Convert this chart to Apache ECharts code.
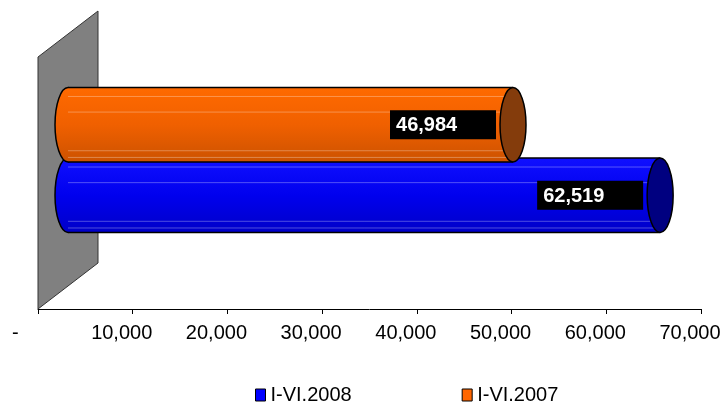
<!DOCTYPE html>
<html>
<head>
<meta charset="utf-8">
<script src="https://cdn.jsdelivr.net/npm/echarts@6/dist/echarts.min.js"></script>
<style>
  html, body { margin: 0; padding: 0; background: #fff; }
  #chart { width: 720px; height: 403px; }
</style>
</head>
<body>
<div id="chart"></div>
<script>
// data
const categories = [''];
const seriesNames = ['I-VI.2008', 'I-VI.2007'];
const values2008 = [62519];
const values2007 = [46984];
const tickValues = [0, 10000, 20000, 30000, 40000, 50000, 60000, 70000];
const tickLabels = ['-', '10,000', '20,000', '30,000', '40,000', '50,000', '60,000', '70,000'];

const FONT = 'Liberation Sans, Arial, sans-serif';
// fake 3d depth: wall goes back by (60,-46), bars sit half way
const WALL_DX = 60, WALL_DY = -46;
const DX = WALL_DX / 2, DY = WALL_DY / 2;

function fmt(v) {
  return v.toLocaleString('en-US');
}

function cylinder(colors, capColor, slot) {
  return function (params, api) {
    const v = api.value(0);
    const c = api.value(1);
    const band = api.size([0, 1])[1];
    const p0 = api.coord([0, c]);
    const p1 = api.coord([v, c]);
    const h = band * 0.295;
    const r = h / 2;
    const rx = 13;
    const cy = p0[1] + DY + slot * band * 0.14;
    const x0 = p0[0] + DX;
    const x1 = p1[0] + DX;
    const top = cy - r, bottom = cy + r;
    const grad = new echarts.graphic.LinearGradient(0, 0, 0, 1, [
      { offset: 0, color: colors[0] },
      { offset: 0.5, color: colors[1] },
      { offset: 1, color: colors[2] }
    ]);
    const stripes = [0.12, 0.33, 0.85, 0.94].map(f => ({
      type: 'line',
      shape: { x1: x0, y1: top + h * f, x2: x1, y2: top + h * f },
      style: { stroke: 'rgba(255,255,255,0.3)', lineWidth: 1 }
    }));
    const boxW = 106, boxH = 29;
    const boxX = x1 - 17 - boxW;
    return {
      type: 'group',
      children: [
        { type: 'ellipse', shape: { cx: x0, cy: cy, rx: rx, ry: r },
          style: { fill: grad, stroke: '#000', lineWidth: 1.5 } },
        { type: 'rect', shape: { x: x0, y: top, width: x1 - x0, height: h },
          style: { fill: grad } }
      ].concat(stripes).concat([
        { type: 'line', shape: { x1: x0, y1: top, x2: x1, y2: top },
          style: { stroke: '#000', lineWidth: 1.5 } },
        { type: 'line', shape: { x1: x0, y1: bottom, x2: x1, y2: bottom },
          style: { stroke: '#000', lineWidth: 1.5 } },
        { type: 'ellipse', shape: { cx: x1, cy: cy, rx: rx, ry: r },
          style: { fill: capColor, stroke: '#000', lineWidth: 1.5 } },
        { type: 'rect', shape: { x: boxX, y: cy - boxH / 2, width: boxW, height: boxH },
          style: { fill: '#000' } },
        { type: 'text',
          style: { x: boxX + 6, y: cy + 1, text: fmt(v), fill: '#fff',
                   fontFamily: FONT, fontWeight: 'bold', fontSize: 20,
                   align: 'left', verticalAlign: 'middle' } }
      ])
    };
  };
}

function wall(params, api) {
  const cs = params.coordSys;
  const x = api.coord([0, 0])[0];
  const yTop = cs.y, yBot = cs.y + cs.height;
  return {
    type: 'polygon',
    shape: { points: [[x, yTop], [x + WALL_DX, yTop + WALL_DY], [x + WALL_DX, yBot + WALL_DY], [x, yBot]] },
    style: { fill: '#808080', stroke: '#333', lineWidth: 1 },
    silent: true
  };
}

const chart = echarts.init(document.getElementById('chart'));
chart.setOption({
  animation: false,
  grid: { left: 38, right: 19, top: 57, bottom: 94, outerBoundsMode: 'none', containLabel: false },
  legend: {
    data: seriesNames,
    left: 255, top: 385, padding: 0,
    icon: 'rect', itemWidth: 10, itemHeight: 12, itemGap: 110,
    itemStyle: { borderColor: '#000', borderWidth: 1 },
    textStyle: { fontFamily: FONT, fontSize: 20, color: '#000' }
  },
  xAxis: {
    type: 'value', min: 0, max: 70000, interval: 10000,
    axisLine: { show: true, lineStyle: { color: '#000', width: 1 } },
    axisTick: { show: true, length: 5, lineStyle: { color: '#000' } },
    splitLine: { show: false },
    axisLabel: {
      fontFamily: FONT, fontSize: 20, color: '#000', margin: 14,
      hideOverlap: false,
      padding: [0, 22, 0, 0],
      formatter: v => {
        const i = tickValues.indexOf(v);
        const t = i >= 0 ? tickLabels[i] : '';
        return v === 0 ? '{d|' + t + '}' : t;
      },
      rich: { d: { width: 30, align: 'left', fontFamily: FONT, fontSize: 20, color: '#000' } }
    }
  },
  yAxis: {
    type: 'category', data: categories, show: false
  },
  series: [
    { type: 'custom', name: 'wall', z: 1, renderItem: wall, data: [[0, 0]], silent: true },
    {
      type: 'custom', name: seriesNames[0], z: 2,
      itemStyle: { color: '#0000FF' },
      encode: { x: 0, y: 1 },
      renderItem: cylinder(['#1010FF', '#0000EE', '#0000C8'], '#000080', 1),
      data: values2008.map((v, i) => [v, i])
    },
    {
      type: 'custom', name: seriesNames[1], z: 3,
      itemStyle: { color: '#FF6600' },
      encode: { x: 0, y: 1 },
      renderItem: cylinder(['#FF6A00', '#F06000', '#CC5200'], '#843C0C', -1),
      data: values2007.map((v, i) => [v, i])
    }
  ]
});
</script>
</body>
</html>
